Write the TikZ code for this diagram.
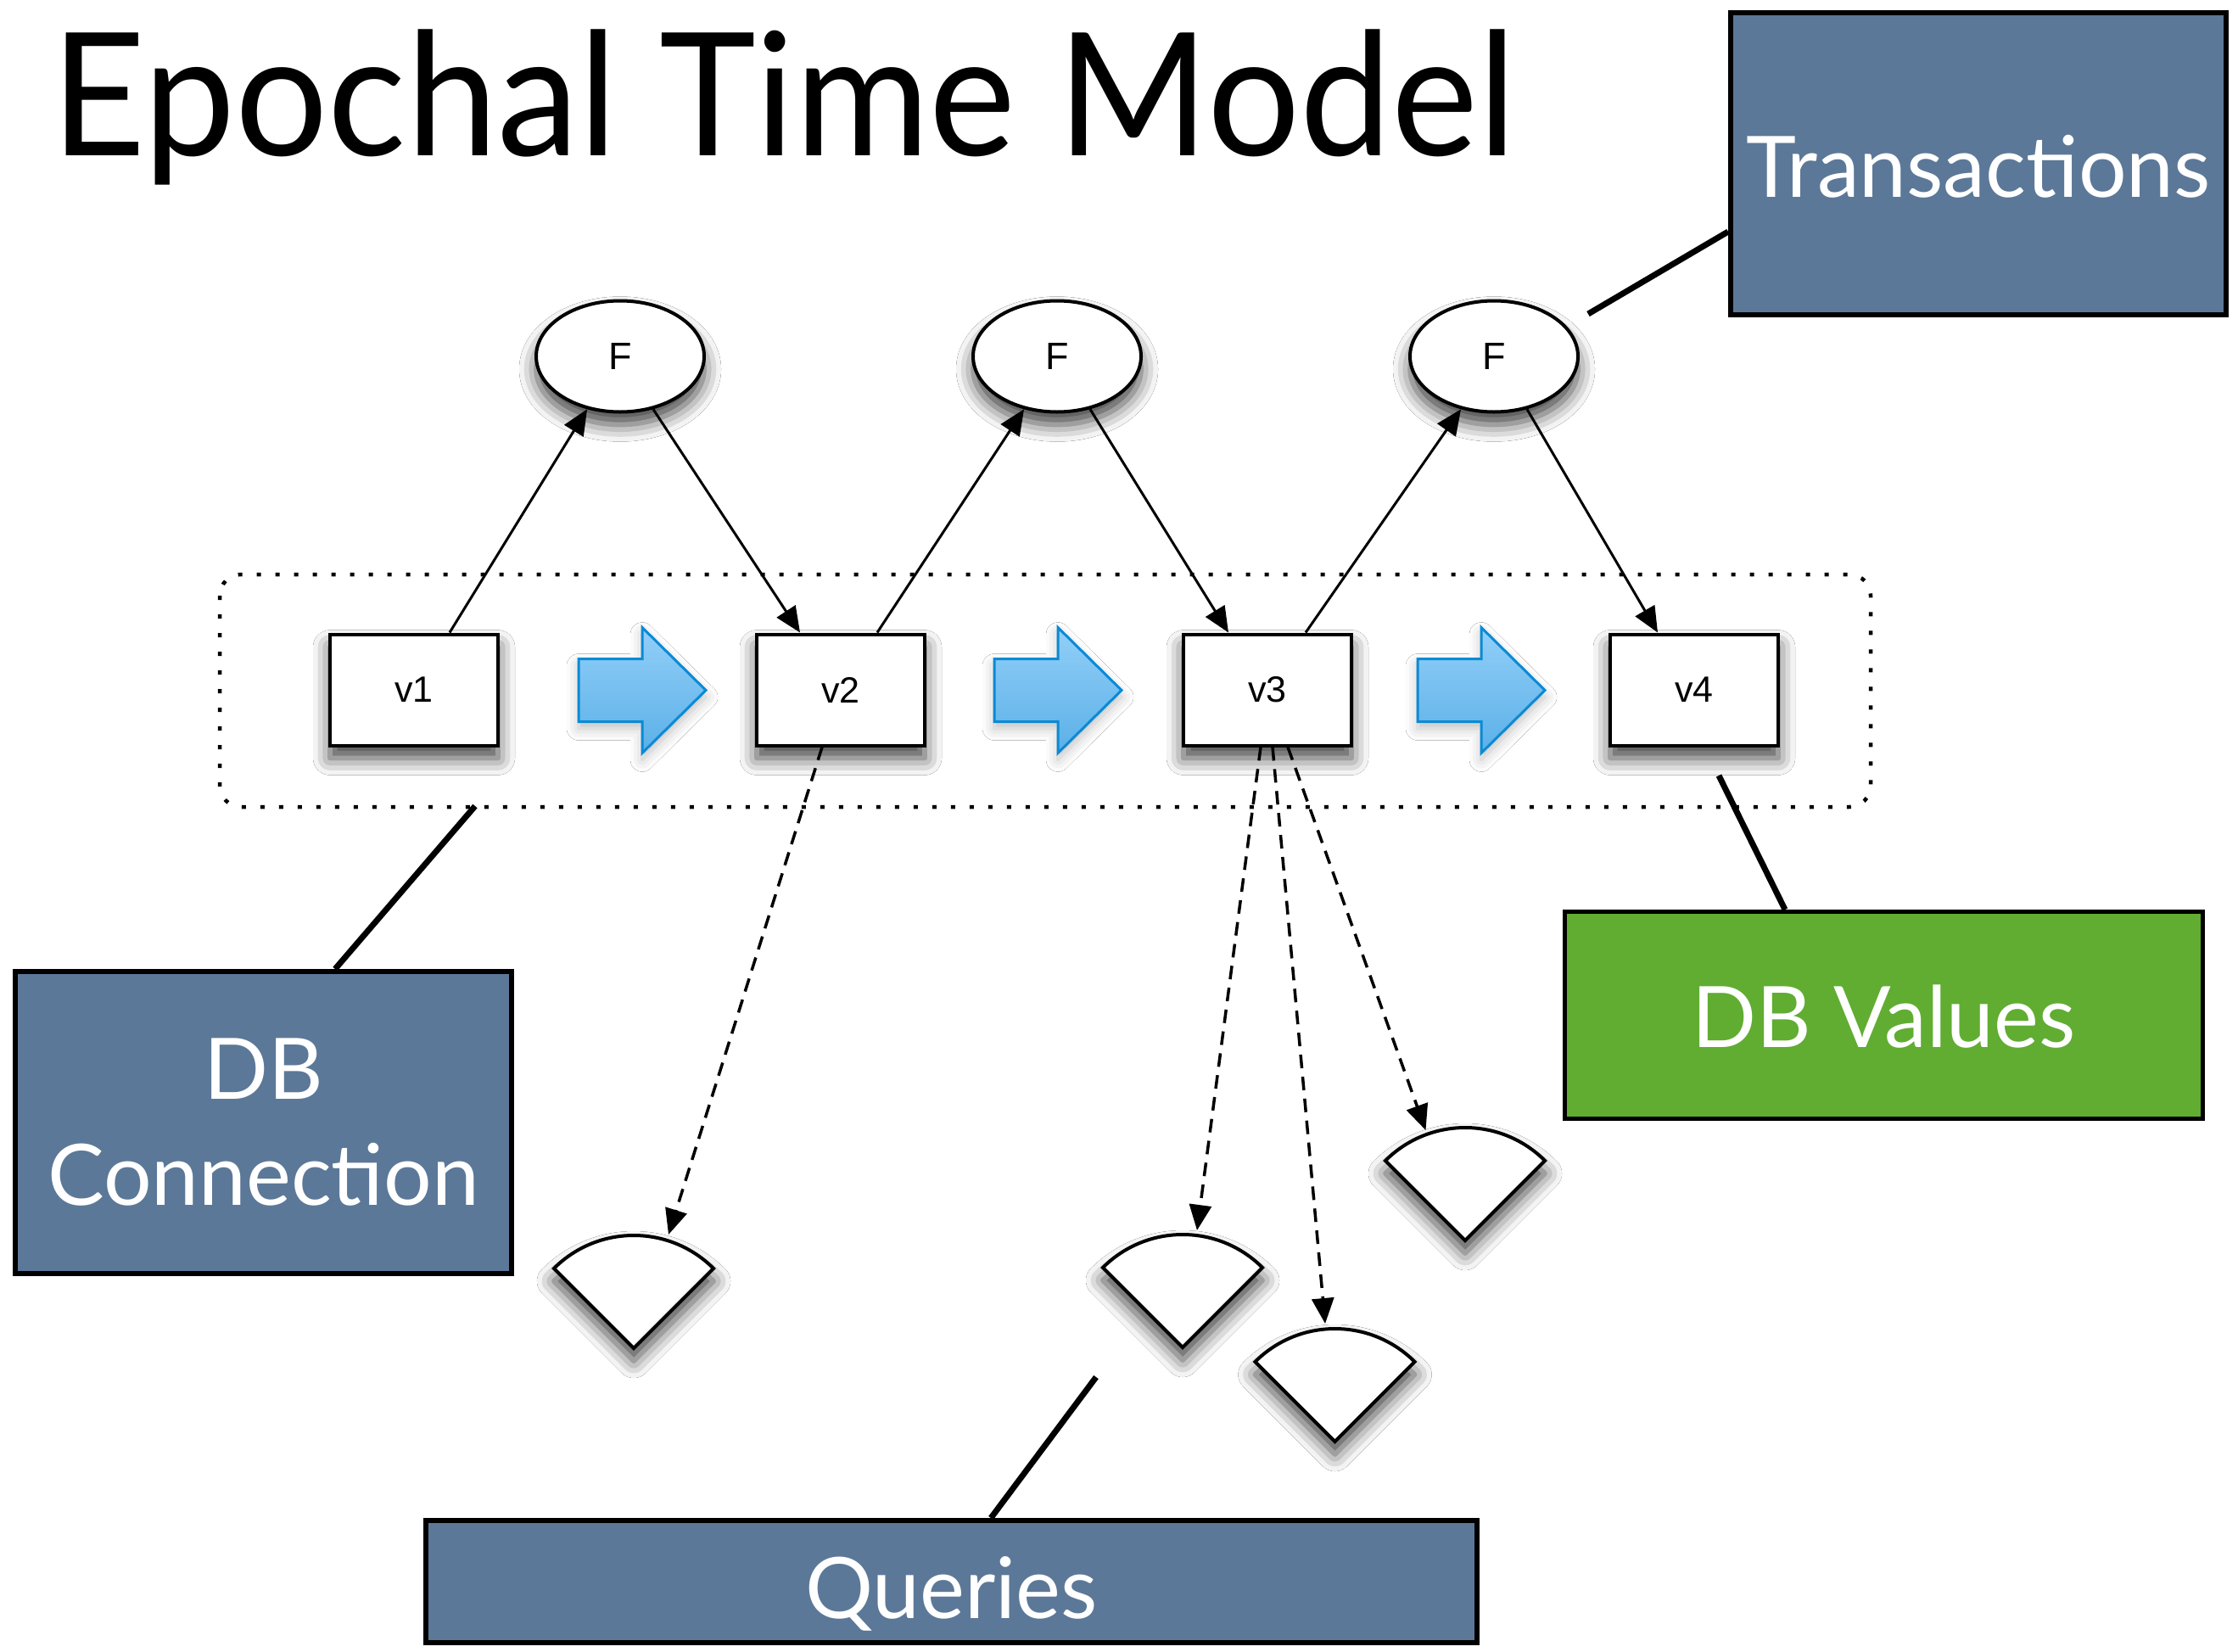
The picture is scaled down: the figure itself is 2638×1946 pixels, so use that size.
\documentclass[tikz,border=0pt]{standalone}
\usepackage{fontspec}
\setmainfont{Lato}
\newfontfamily\helv{Liberation Sans}
\usetikzlibrary{arrows.meta,calc,shapes.geometric,shadows.blur}
\definecolor{slate}{HTML}{5C7898}
\definecolor{dbgreen}{HTML}{60AD32}
\definecolor{arrowtop}{HTML}{92CFF8}
\definecolor{arrowbot}{HTML}{5BB0E8}
\definecolor{arrowedge}{HTML}{0A8AD5}
\begin{document}
\begin{tikzpicture}[x=1pt,y=-1pt,
  shadowed/.style={blur shadow={shadow xshift=0pt,shadow yshift=-15pt,shadow blur radius=20pt,shadow opacity=75}},
  softshadow/.style={blur shadow={shadow xshift=0pt,shadow yshift=-8pt,shadow blur radius=14pt,shadow opacity=25}},
  vbox/.style={draw=black,line width=4pt,fill=white,rectangle,minimum width=198pt,minimum height=131pt,inner sep=0pt,font=\helv\fontsize{43}{43}\selectfont,shadowed},
  fnode/.style={draw=black,line width=4pt,fill=white,ellipse,minimum width=198pt,minimum height=131pt,inner sep=0pt,font=\helv\fontsize{45}{45}\selectfont,shadowed},
  labelbox/.style={draw=black,line width=6pt,fill=slate,text=white,rectangle,inner sep=0pt,align=center,font=\fontsize{100}{125}\selectfont},
  link/.style={line width=3pt,-{Triangle[length=30pt,width=26pt]}},
  qlink/.style={line width=3.5pt,dash pattern=on 16pt off 10pt,-{Triangle[length=30pt,width=26pt]}},
  callout/.style={line width=7pt},
  epochframe/.style={line width=4.5pt,dash pattern=on 5pt off 17pt,rounded corners=25pt},
  bluearrow/.pic={\path[softshadow,draw=arrowedge,line width=3pt,top color=arrowtop,bottom color=arrowbot]
      (0,-37) -- (75,-37) -- (75,-74) -- (150,0) -- (75,74) -- (75,37) -- (0,37) -- cycle;},
  query/.pic={\path[shadowed,draw=black,line width=4pt,fill=white]
      (0,0) -- (225:133) arc[start angle=225,end angle=315,radius=133] -- cycle;}
]
\useasboundingbox (0,0) rectangle (2638,1946);
\fill[white] (0,0) rectangle (2638,1946);

% title
\node[anchor=base west,inner sep=0pt,font=\fontsize{202}{202}\selectfont] (title) at (60,183) {\scalebox{0.955}[1]{Epochal Time Model}};

% epoch frame
\draw[epochframe] (259,677) rectangle (2205,951);

% blue transition arrows
\pic at (682,813.5) {bluearrow};
\pic at (1172,813.5) {bluearrow};
\pic at (1671,813.5) {bluearrow};

% versions
\node[vbox] (v1) at (488,813) {v1};
\node[vbox] (v2) at (991,813) {v2};
\node[vbox] (v3) at (1494,813) {v3};
\node[vbox] (v4) at (1997,813) {v4};

% functions
\node[fnode] (F1) at (731,420) {F};
\node[fnode] (F2) at (1246,420) {F};
\node[fnode] (F3) at (1761,420) {F};

\draw[link] ($(v1.north)+(42,0)$) -- (F1.238);
\draw[link] (F1.302) -- ($(v2.north)+(-48,0)$);
\draw[link] ($(v2.north)+(43,0)$) -- (F2.238);
\draw[link] (F2.302) -- ($(v3.north)+(-46,0)$);
\draw[link] ($(v3.north)+(45,0)$) -- (F3.238);
\draw[link] (F3.302) -- ($(v4.north)+(-43,0)$);

% queries
\coordinate (q1) at (747,1589);
\coordinate (q2) at (1394,1588);
\coordinate (q3) at (1573.5,1699);
\coordinate (q4) at (1727,1462);
\pic at (q1) {query};
\pic at (q2) {query};
\pic at (q3) {query};
\pic at (q4) {query};

\draw[qlink] ($(v2.south)+(-22,0)$) -- ($(q1)+(41,-134)$);
\draw[qlink] ($(v3.south)+(-8,0)$) -- ($(q2)+(17,-138)$);
\draw[qlink] ($(v3.south)+(6,0)$) -- ($(q3)+(-11.5,-139)$);
\draw[qlink] ($(v3.south)+(24,0)$) -- ($(q4)+(-46.5,-130)$);

% label boxes
\node[labelbox,minimum width=584pt,minimum height=356pt,text height=78pt,text depth=0pt] (trans) at (2332,193) {Transactions};
\node[labelbox,minimum width=585pt,minimum height=356pt] (dbc) at (310.5,1323) {DB\\Connection};
\node[labelbox,minimum width=1239pt,minimum height=144pt,text height=86pt,text depth=0pt] (queries) at (1121.5,1864) {Queries};
\node[labelbox,fill=dbgreen,line width=5pt,minimum width=752pt,minimum height=244pt,text height=75pt,text depth=0pt] (dbv) at (2220.5,1196.5) {DB Values};

% callout lines
\coordinate (trans-tip) at (1872,370);
\coordinate (dbc-tip) at (560,950);
\coordinate (queries-tip) at (1292,1623);
\coordinate (dbv-tip) at (2026,914);
\draw[callout] ($(trans.south west)+(0,-101)$) -- (trans-tip);
\draw[callout] ($(dbc.north west)+(380,0)$) -- (dbc-tip);
\draw[callout] ($(queries.north west)+(669,0)$) -- (queries-tip);
\draw[callout] ($(dbv.north west)+(262,0)$) -- (dbv-tip);
\end{tikzpicture}
\end{document}
